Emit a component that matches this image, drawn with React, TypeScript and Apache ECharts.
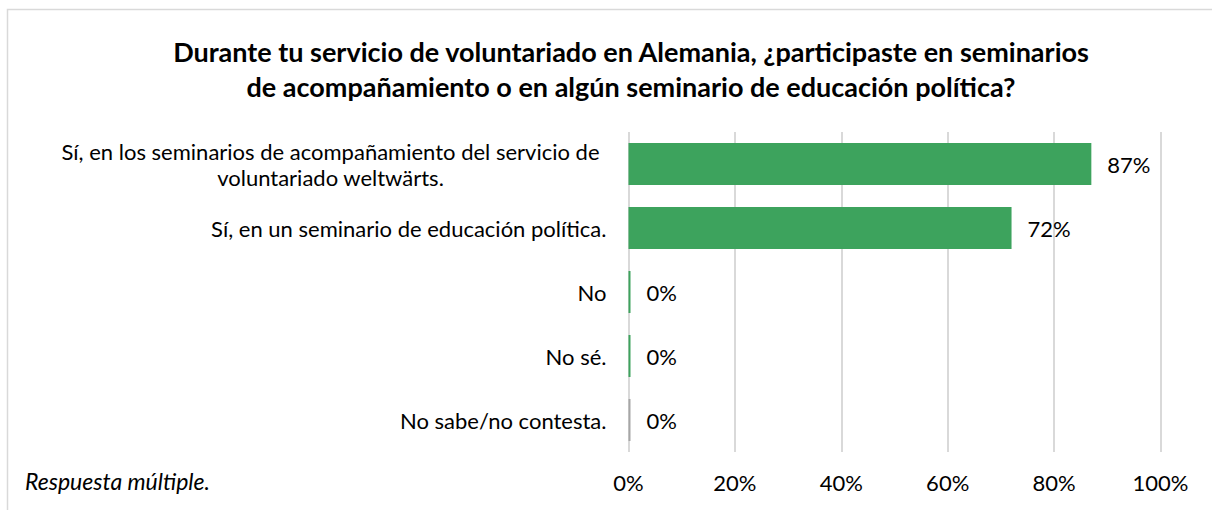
import React, { useEffect, useRef } from "react";
import * as echarts from "echarts";

const categories = [
  "Sí, en los seminarios de acompañamiento del servicio de\nvoluntariado weltwärts.",
  "Sí, en un seminario de educación política.",
  "No",
  "No sé.",
  "No sabe/no contesta.",
];
const values = [87, 72, 0, 0, 0];
const barColors = ["#3DA35D", "#3DA35D", "#3DA35D", "#3DA35D", "#A6A6A6"];
const xTicks = [0, 20, 40, 60, 80, 100];

const titleText =
  "Durante tu servicio de voluntariado en Alemania, ¿participaste en seminarios\nde acompañamiento o en algún seminario de educación política?";
const footnote = "Respuesta múltiple.";

const FONT = "Lato, 'Liberation Sans', sans-serif";

export default function App() {
  const ref = useRef<HTMLDivElement>(null);
  useEffect(() => {
    if (!ref.current) return;
    const chart = echarts.init(ref.current, undefined, { renderer: "svg" });
    const cats = [...categories].reverse();
    const vals = [...values].reverse();
    const cols = [...barColors].reverse();
    chart.setOption({
      animation: false,
      backgroundColor: "#ffffff",
      title: {
        text: titleText,
        left: 631,
        textAlign: "center",
        top: 34,
        padding: 0,
        textStyle: {
          fontFamily: FONT,
          fontSize: 27,
          fontWeight: "bold",
          color: "#000000",
          lineHeight: 35,
        },
      },
      graphic: [
        {
          type: "rect",
          shape: { x: 7.5, y: 9.5, width: 1220, height: 520 },
          style: { fill: "none", stroke: "#D9D9D9", lineWidth: 1.5 },
          silent: true,
        },
        {
          type: "text",
          left: 25,
          top: 469,
          style: {
            text: footnote,
            fontFamily: FONT,
            fontSize: 23,
            fontStyle: "italic",
            fill: "#000000",
          },
        },
      ],
      grid: {
        left: 628.5,
        width: 532,
        top: 132,
        height: 320,
        containLabel: false,
      },
      xAxis: {
        type: "value",
        min: 0,
        max: 100,
        interval: 20,
        axisLine: { show: false },
        axisTick: { show: false },
        splitLine: { show: true, lineStyle: { color: "#D9D9D9", width: 2 } },
        axisLabel: {
          margin: 19,
          fontFamily: FONT,
          fontSize: 22,
          color: "#000000",
          formatter: (v: number) => (xTicks.includes(v) ? v + "%" : ""),
        },
      },
      yAxis: {
        type: "category",
        data: cats.map((c, i) =>
          i === cats.length - 1
            ? {
                value: c,
                textStyle: { align: "center", padding: [0, 552, 0, 0] },
              }
            : c
        ),
        axisLine: { show: false },
        axisTick: { show: false },
        axisLabel: {
          margin: 22,
          fontFamily: FONT,
          fontSize: 22,
          color: "#000000",
          lineHeight: 26,
        },
      },
      series: [
        {
          type: "bar",
          barWidth: 42,
          barMinHeight: 2,
          data: vals.map((v, i) => ({ value: v, itemStyle: { color: cols[i] } })),
          label: {
            show: true,
            position: "right",
            distance: 16,
            fontFamily: FONT,
            fontSize: 22,
            color: "#000000",
            formatter: (p: any) => p.value + "%",
          },
        },
      ],
    });
    return () => chart.dispose();
  }, []);
  return <div ref={ref} style={{ width: 1212, height: 510, position: "absolute", left: 0, top: 0 }} />;
}
